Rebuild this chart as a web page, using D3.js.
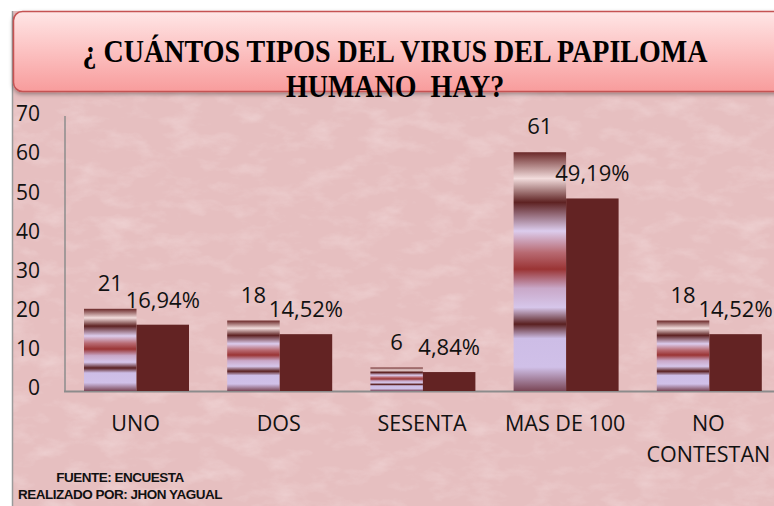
<html>
  <head>
    <title>Tipos de VPH</title>
    <script src="https://d3js.org/d3.v7.min.js"></script>
    <style>
      body { margin: 0; background: #fff; }
      svg { display: block; }
    </style>
  </head>
  <body>
    <svg id="chart" width="774" height="506"></svg>
    <script>
      // datos
      const categories = ['UNO', 'DOS', 'SESENTA', 'MAS DE 100', 'NO CONTESTAN'];
      const counts = [21, 18, 6, 61, 18];
      const percents = [16.94, 14.52, 4.84, 49.19, 14.52];
      const yTicks = [0, 10, 20, 30, 40, 50, 60, 70];
      const titleLines = ['¿ CUÁNTOS TIPOS DEL VIRUS DEL PAPILOMA', 'HUMANO  HAY?'];
      const footerLines = ['FUENTE: ENCUESTA', 'REALIZADO POR: JHON YAGUAL'];

      const svg = d3.select('svg#chart');
      const defs = svg.append('defs');

      // textura del fondo
      const tex = defs.append('filter').attr('id', 'paper')
        .attr('x', 0).attr('y', 0).attr('width', 1).attr('height', 1);
      tex.append('feTurbulence').attr('type', 'fractalNoise')
        .attr('baseFrequency', '0.03 0.06').attr('numOctaves', 4).attr('seed', 7);
      tex.append('feColorMatrix').attr('type', 'matrix')
        .attr('values', '0 0 0 0 1  0 0 0 0 0.93  0 0 0 0 0.93  1.6 0 0 0 -0.75');

      // degradado del titulo
      const tg = defs.append('linearGradient').attr('id', 'titleGrad')
        .attr('x1', 0).attr('y1', 0).attr('x2', 0).attr('y2', 1);
      tg.append('stop').attr('offset', 0).attr('stop-color', '#ffe6e6');
      tg.append('stop').attr('offset', 1).attr('stop-color', '#f89c9c');

      const shadow = defs.append('filter').attr('id', 'shadow')
        .attr('x', -0.05).attr('y', -0.1).attr('width', 1.1).attr('height', 1.3);
      shadow.append('feDropShadow').attr('dx', 0).attr('dy', 2)
        .attr('stdDeviation', 2).attr('flood-color', '#000').attr('flood-opacity', 0.35);

      // degradado de franjas de la primera serie
      const bandStops = [
        [0, '#6a2828'], [0.11, '#f2dcdc'], [0.21, '#5e2222'], [0.33, '#dccced'],
        [0.42, '#b86a72'], [0.49, '#9a3434'], [0.57, '#c9a8c8'], [0.65, '#d6c6ea'],
        [0.72, '#5a2020'], [0.78, '#cdbde6'], [0.9, '#d0c0e8'], [1, '#7a4656']
      ];
      const bg = defs.append('linearGradient').attr('id', 'stripes')
        .attr('x1', 0).attr('y1', 0).attr('x2', 0).attr('y2', 1);
      bandStops.forEach(s => bg.append('stop').attr('offset', s[0]).attr('stop-color', s[1]));

      // fondo
      svg.append('rect').attr('width', 774).attr('height', 506).attr('fill', '#fff');
      svg.append('rect').attr('x', 13).attr('y', 11).attr('width', 761).attr('height', 495)
        .attr('fill', '#e6bfc0');
      svg.append('rect').attr('x', 13).attr('y', 11).attr('width', 761).attr('height', 495)
        .attr('filter', 'url(#paper)').attr('opacity', 0.4);
      svg.append('line').attr('x1', 12.5).attr('x2', 12.5).attr('y1', 11).attr('y2', 506)
        .attr('stroke', '#9a9a9a').attr('stroke-width', 1.5);

      // escalas
      const y = d3.scaleLinear().domain([0, 70]).range([391, 117]);
      const x0 = d3.scaleBand().domain(categories).range([65, 781]);
      const x1 = d3.scaleBand().domain(['count', 'percent']).range([19, 124]);

      // ejes
      svg.append('line').attr('x1', 65).attr('x2', 65).attr('y1', y(70) - 1).attr('y2', y(0))
        .attr('stroke', '#8c8c8c').attr('stroke-width', 1.5);
      svg.append('line').attr('x1', 64).attr('x2', 774).attr('y1', y(0) + 0.5).attr('y2', y(0) + 0.5)
        .attr('stroke', '#8c8c8c').attr('stroke-width', 2);

      const yAxis = d3.axisLeft(y).tickValues(yTicks).tickSize(0).tickPadding(0);
      const yg = svg.append('g').attr('transform', 'translate(40,-3)').call(yAxis);
      yg.select('.domain').remove();
      yg.selectAll('text').attr('font-family', '"Open Sans", sans-serif')
        .attr('font-size', 21).attr('fill', '#111');

      // barras
      const groups = svg.selectAll('g.cat').data(categories).join('g')
        .attr('class', 'cat')
        .attr('transform', d => `translate(${x0(d)},0)`);

      groups.append('rect')
        .attr('x', x1('count')).attr('width', x1.bandwidth())
        .attr('y', (d, i) => y(counts[i])).attr('height', (d, i) => y(0) - y(counts[i]))
        .attr('fill', 'url(#stripes)');
      groups.append('rect')
        .attr('x', x1('percent')).attr('width', x1.bandwidth())
        .attr('y', (d, i) => y(percents[i])).attr('height', (d, i) => y(0) - y(percents[i]))
        .attr('fill', '#632323');

      // etiquetas de valores
      const valueFont = '"Open Sans", sans-serif';
      groups.append('text')
        .attr('x', x1('count') + x1.bandwidth() / 2)
        .attr('y', (d, i) => y(counts[i]) - 18)
        .attr('text-anchor', 'middle')
        .attr('font-family', valueFont).attr('font-size', 22).attr('fill', '#111')
        .text((d, i) => counts[i]);
      groups.append('text')
        .attr('x', x1('percent') + x1.bandwidth() / 2)
        .attr('y', (d, i) => y(percents[i]) - 17)
        .attr('text-anchor', 'middle')
        .attr('font-family', valueFont).attr('font-size', 22).attr('fill', '#111')
        .text((d, i) => percents[i].toFixed(2).replace('.', ',') + '%');

      // etiquetas de categorias
      groups.append('text')
        .attr('x', x0.bandwidth() / 2 - 1)
        .attr('y', 431)
        .attr('text-anchor', 'middle')
        .attr('font-family', valueFont).attr('font-size', 21.5).attr('fill', '#111')
        .each(function(d) {
          const words = d === 'NO CONTESTAN' ? ['NO', 'CONTESTAN'] : [d];
          d3.select(this).selectAll('tspan').data(words).join('tspan')
            .attr('x', x0.bandwidth() / 2 - 1)
            .attr('dy', (w, j) => j === 0 ? 0 : 31)
            .text(w => w);
        });

      // titulo
      svg.append('rect').attr('x', 13.5).attr('y', 11.5).attr('width', 775).attr('height', 80)
        .attr('rx', 9).attr('fill', 'url(#titleGrad)')
        .attr('stroke', '#c55252').attr('stroke-width', 1.5)
        .attr('filter', 'url(#shadow)');

      svg.selectAll('text.title').data(titleLines).join('text')
        .attr('class', 'title')
        .attr('transform', (d, i) => `translate(395,${62 + i * 35}) scale(1,1.12)`)
        .attr('text-anchor', 'middle')
        .style('white-space', 'pre')
        .attr('font-family', '"Liberation Serif", "Times New Roman", serif')
        .attr('font-weight', 'bold').attr('font-size', 28).attr('fill', '#000')
        .text(d => d);

      // pie
      svg.selectAll('text.footer').data(footerLines).join('text')
        .attr('class', 'footer')
        .attr('x', 120).attr('y', (d, i) => 482 + i * 17)
        .attr('text-anchor', 'middle')
        .attr('font-family', '"Liberation Sans", Arial, sans-serif')
        .attr('font-weight', 'bold').attr('font-size', 13.5).attr('letter-spacing', -0.5)
        .attr('fill', '#111')
        .text(d => d);
    </script>
  </body>
</html>
